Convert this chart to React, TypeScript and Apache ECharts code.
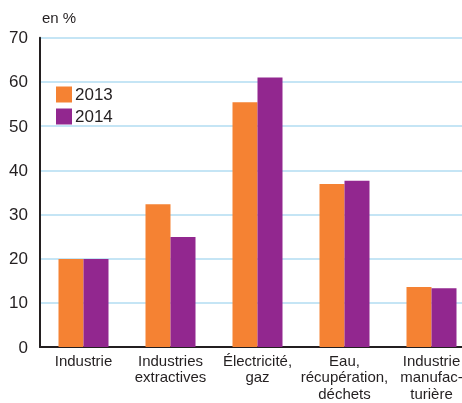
import React, { useEffect, useRef } from "react";
import * as echarts from "echarts";

const categories = [
  "Industrie",
  "Industries\nextractives",
  "Électricité,\ngaz",
  "Eau,\nrécupération,\ndéchets",
  "Industrie\nmanufac-\nturière",
];
const series2013 = [19.9, 32.3, 55.4, 36.9, 13.6];
const series2014 = [19.9, 24.9, 61.0, 37.6, 13.3];
const seriesNames = ["2013", "2014"];
const yTicks = { min: 0, max: 70, interval: 10 };
const unitLabel = "en %";

const FONT = "'Liberation Sans Narrow', 'Arial Narrow', 'Liberation Sans', sans-serif";
const ORANGE = "#f58233";
const PURPLE = "#92278f";
const TEXT = "#231f20";

export default function App() {
  const ref = useRef<HTMLDivElement>(null);
  useEffect(() => {
    if (!ref.current) return;
    const chart = echarts.init(ref.current, undefined, { renderer: "svg" });
    chart.setOption({
      animation: false,
      textStyle: { fontFamily: FONT },
      grid: { left: 40, top: 37.7, bottom: 56, right: -13, outerBoundsMode: "none", containLabel: false },
      legend: {
        left: 56,
        top: 86,
        padding: 0,
        orient: "vertical",
        itemWidth: 16,
        itemHeight: 16,
        itemGap: 5,
        icon: "rect",
        textStyle: { fontFamily: FONT, fontSize: 17, color: TEXT, padding: [0, 0, 0, -2] },
        data: seriesNames,
      },
      graphic: [
        {
          type: "text",
          left: 42,
          top: 10,
          style: { text: unitLabel, fontFamily: FONT, fontSize: 15, fill: TEXT },
        },
      ],
      xAxis: {
        type: "category",
        data: categories,
        axisLine: { show: true, lineStyle: { color: "#231f20", width: 2 } },
        axisTick: { show: false },
        axisLabel: {
          fontFamily: FONT,
          fontSize: 15,
          lineHeight: 16.5,
          color: TEXT,
          margin: 5,
          interval: 0,
        },
      },
      yAxis: {
        type: "value",
        min: yTicks.min,
        max: yTicks.max,
        interval: yTicks.interval,
        axisLine: { show: true, lineStyle: { color: "#231f20", width: 2 } },
        axisTick: { show: false },
        axisLabel: { fontFamily: FONT, fontSize: 17, color: TEXT, margin: 12 },
        splitLine: { show: true, lineStyle: { color: "#b2dcf2", width: 1.5 } },
      },
      series: [
        {
          name: seriesNames[0],
          type: "bar",
          data: series2013,
          barWidth: 25,
          barGap: "0%",
          itemStyle: { color: ORANGE },
        },
        {
          name: seriesNames[1],
          type: "bar",
          data: series2014,
          barWidth: 25,
          barGap: "0%",
          itemStyle: { color: PURPLE },
        },
      ],
    });
    return () => chart.dispose();
  }, []);
  return (
    <div
      ref={ref}
      style={{ position: "fixed", left: 0, top: 0, width: 462, height: 403 }}
    />
  );
}
